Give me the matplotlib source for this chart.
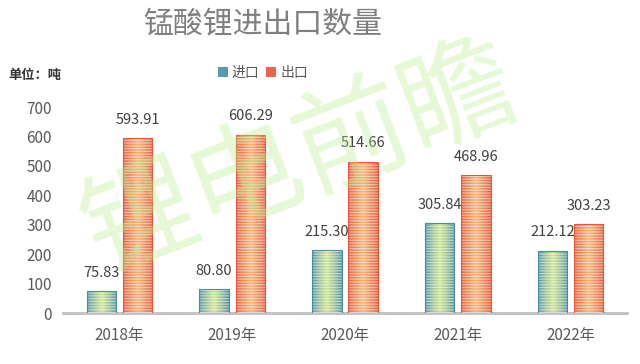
import numpy as np
import matplotlib
matplotlib.use("Agg")
import matplotlib.pyplot as plt
from matplotlib.patches import Patch
from matplotlib.colors import to_rgb

plt.rcParams["font.family"] = ["Noto Sans CJK SC", "DejaVu Sans"]
plt.rcParams["hatch.linewidth"] = 0.9

years = ["2018年", "2019年", "2020年", "2021年", "2022年"]
imports = [75.83, 80.80, 215.30, 305.84, 212.12]
exports = [593.91, 606.29, 514.66, 468.96, 303.23]
series_names = ["进口", "出口"]

# edge colour -> centre colour for the striped gradient bars
styles = {
    "进口": dict(edge="#4a8ea6", centre="#d2e68f", legend="#5a9aae"),
    "出口": dict(edge="#e4583a", centre="#f7b67a", legend="#e8664a"),
}


def gradient_bars(ax, xs, vals, width, st):
    bars = ax.bar(xs, vals, width, color="none", edgecolor="none", zorder=2)
    e, c = np.array(to_rgb(st["edge"])), np.array(to_rgb(st["centre"]))
    t = 1 - np.abs(np.linspace(-1, 1, 64))
    row = e + (c - e) * t[:, None] ** 0.8
    img = row[None, :, :]
    for b in bars:
        x0, y0 = b.get_x(), b.get_y()
        im = ax.imshow(img, extent=(x0, x0 + b.get_width(), y0, y0 + b.get_height()),
                       aspect="auto", interpolation="bilinear", zorder=2)
        im.set_clip_path(b)
    # horizontal stripes + outline
    ax.bar(xs, vals, width, color="none", edgecolor=(1, 1, 1, 0.5), hatch="------",
           linewidth=0, zorder=3)
    ax.bar(xs, vals, width, color="none", edgecolor=st["edge"], linewidth=0.8, zorder=4)
    return bars


fig = plt.figure(figsize=(6.4, 3.64), dpi=100)
ax = fig.add_axes([63 / 640, 51 / 364, 564 / 640, 206 / 364])

x = np.arange(len(years))
w, off = 0.26, 0.16
for vals, name, dx in [(imports, "进口", -off), (exports, "出口", off)]:
    bars = gradient_bars(ax, x + dx, vals, w, styles[name])
    for b, v in zip(bars, vals):
        ax.annotate(f"{v:.2f}", (b.get_x() + b.get_width() / 2, v), xytext=(0, 8),
                    textcoords="offset points", ha="center", va="bottom",
                    fontsize=10.5, color="#404040", zorder=5)

ax.set_xlim(-0.5, len(years) - 0.5)
ax.set_ylim(0, 700)
ax.set_yticks(range(0, 701, 100))
ax.set_xticks(x)
ax.set_xticklabels(years)
ax.tick_params(axis="both", length=0, labelsize=11, labelcolor="#595959")
ax.tick_params(axis="y", pad=8)
ax.tick_params(axis="x", pad=10)
for s in ["top", "right", "left"]:
    ax.spines[s].set_visible(False)
ax.spines["bottom"].set_color("#bfbfbf")
ax.spines["bottom"].set_linewidth(2)

fig.text(263 / 640, 1 - 24 / 364, "锰酸锂进出口数量", ha="center", va="center",
         fontsize=21.5, color="#7f7f7f", fontweight="light")
fig.text(8 / 640, 1 - 75 / 364, "单位：吨", ha="left", va="center",
         fontsize=9.5, color="#333333", fontweight="bold")

handles = [Patch(facecolor=styles[n]["legend"], edgecolor="none") for n in series_names]
fig.legend(handles, series_names, loc="center", bbox_to_anchor=(263 / 640, 1 - 73 / 364),
           ncol=2, frameon=False, fontsize=10, handlelength=0.7, handleheight=0.7,
           handletextpad=0.3, columnspacing=0.5, labelcolor="#595959")

# watermark
fig.text(300 / 640, 1 - 160 / 364, "锂电前瞻", ha="center", va="center", rotation=21,
         fontsize=82, color="#b8ef8c", alpha=0.35, zorder=10)

fig.savefig("out.png", dpi=100)
